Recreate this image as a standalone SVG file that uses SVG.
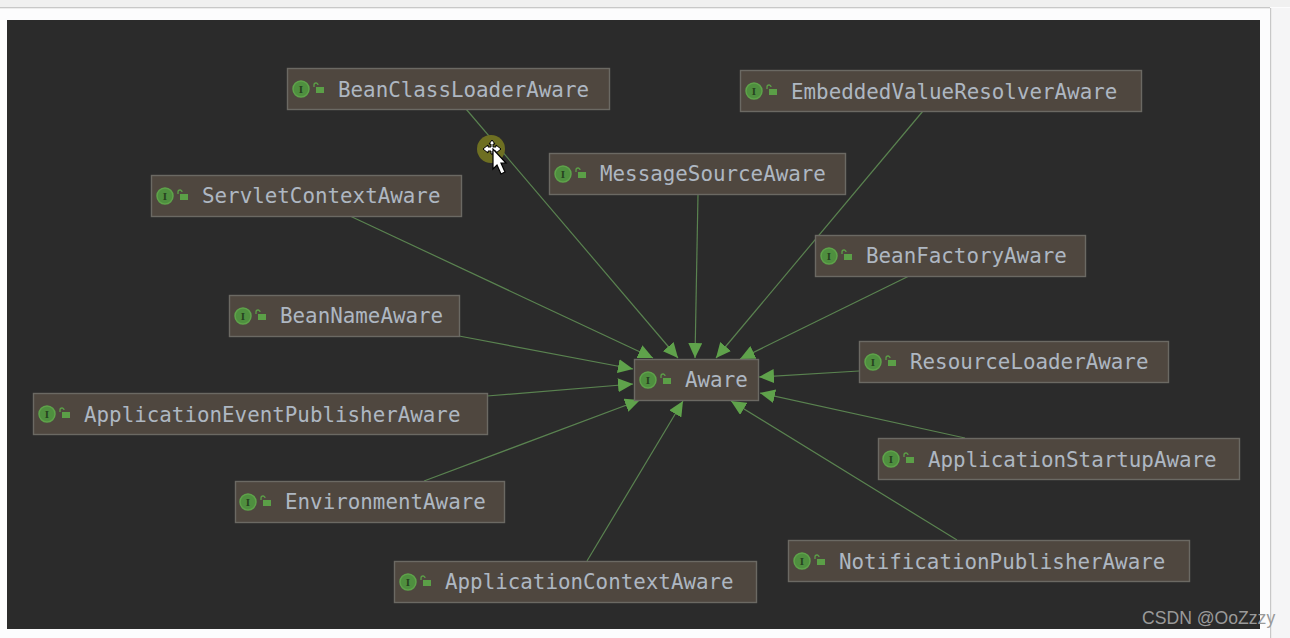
<svg xmlns="http://www.w3.org/2000/svg" width="1290" height="638" viewBox="0 0 1290 638">
<defs>
<style>
.n{fill:#4f473f;stroke:#6b6963;stroke-width:1.4}
.t{font-family:"DejaVu Sans Mono","Liberation Mono",monospace;font-size:20.85px;fill:#aeb7c2}
.c{fill:#4f8f3f;stroke:#5ea34a;stroke-width:1.5}
.i{font-family:"Liberation Serif",serif;font-size:11px;font-weight:bold;fill:#26431f;text-anchor:middle}
.l{stroke:#5a8350;stroke-width:1.2;fill:none;marker-end:url(#a)}
</style>
<marker id="a" markerUnits="userSpaceOnUse" markerWidth="15" markerHeight="14" refX="15" refY="7" orient="auto"><path d="M0 0L15 7L0 14Z" fill="#5fa24b"/></marker>
<g id="lk"><path d="M-5 -2V-4a2 2 0 0 1 4 0" fill="none" stroke="#5b9f47" stroke-width="1.3"/><rect x="-3" y="-2" width="8" height="6" fill="#5b9f47"/></g>
</defs>
<rect width="1290" height="638" fill="#fcfcfd"/>
<rect width="1290" height="7" fill="#f0f0f0"/>
<rect y="7" width="1270" height="1.3" fill="#c8c8c8"/>
<rect x="1271" y="8" width="19" height="630" fill="#f5f5f6"/>
<rect x="1270" y="8" width="1.2" height="630" fill="#c8c8c8"/>
<rect x="7" y="20" width="1253" height="609" fill="#2b2b2b"/>
<g id="connectors">
<path class="l" d="M466 109L678 358"/>
<path class="l" d="M350 216L653 358"/>
<path class="l" d="M459 336L633 369"/>
<path class="l" d="M487 396L633 384"/>
<path class="l" d="M424 481L640 400"/>
<path class="l" d="M587 561L683 401"/>
<path class="l" d="M698 194L695 358"/>
<path class="l" d="M923 111L716 358"/>
<path class="l" d="M909 276L740 359"/>
<path class="l" d="M859 371L759 377"/>
<path class="l" d="M965 438L760 393"/>
<path class="l" d="M957 540L731 401"/>
</g>
<g id="BeanClassLoaderAware"><rect class="n" x="287.500" y="68.500" width="322" height="41"/><circle class="c" cx="301" cy="89" r="8"/><text class="i" x="301" y="92.500">I</text><use href="#lk" x="319" y="89"/><text class="t" x="338" y="96.500">BeanClassLoaderAware</text></g>
<g id="EmbeddedValueResolverAware"><rect class="n" x="740.500" y="70.500" width="401" height="41"/><circle class="c" cx="754" cy="91" r="8"/><text class="i" x="754" y="94.500">I</text><use href="#lk" x="772" y="91"/><text class="t" x="791" y="98.500">EmbeddedValueResolverAware</text></g>
<g id="MessageSourceAware"><rect class="n" x="549.500" y="153.500" width="296" height="41"/><circle class="c" cx="563" cy="174" r="8"/><text class="i" x="563" y="177.500">I</text><use href="#lk" x="581" y="174"/><text class="t" x="600" y="181">MessageSourceAware</text></g>
<g id="ServletContextAware"><rect class="n" x="151.500" y="175.500" width="310" height="41"/><circle class="c" cx="165" cy="196" r="8"/><text class="i" x="165" y="199.500">I</text><use href="#lk" x="183" y="196"/><text class="t" x="202" y="203">ServletContextAware</text></g>
<g id="BeanFactoryAware"><rect class="n" x="815.500" y="235.500" width="270" height="41"/><circle class="c" cx="829" cy="256" r="8"/><text class="i" x="829" y="259.500">I</text><use href="#lk" x="847" y="256"/><text class="t" x="866" y="263">BeanFactoryAware</text></g>
<g id="BeanNameAware"><rect class="n" x="229.500" y="295.500" width="230" height="41"/><circle class="c" cx="243" cy="316" r="8"/><text class="i" x="243" y="319.500">I</text><use href="#lk" x="261" y="316"/><text class="t" x="280" y="323">BeanNameAware</text></g>
<g id="ResourceLoaderAware"><rect class="n" x="859.500" y="341.500" width="309" height="41"/><circle class="c" cx="873" cy="362" r="8"/><text class="i" x="873" y="365.500">I</text><use href="#lk" x="891" y="362"/><text class="t" x="910" y="369">ResourceLoaderAware</text></g>
<g id="Aware"><rect class="n" x="634.500" y="359.500" width="124" height="41"/><circle class="c" cx="648" cy="380" r="8"/><text class="i" x="648" y="383.500">I</text><use href="#lk" x="666" y="380"/><text class="t" x="685" y="387">Aware</text></g>
<g id="ApplicationEventPublisherAware"><rect class="n" x="33.500" y="393.500" width="454" height="41"/><circle class="c" cx="47" cy="414" r="8"/><text class="i" x="47" y="417.500">I</text><use href="#lk" x="65" y="414"/><text class="t" x="84" y="421.500">ApplicationEventPublisherAware</text></g>
<g id="ApplicationStartupAware"><rect class="n" x="878.500" y="438.500" width="361" height="41"/><circle class="c" cx="891" cy="459" r="8"/><text class="i" x="891" y="462.500">I</text><use href="#lk" x="909" y="459"/><text class="t" x="928" y="466.500">ApplicationStartupAware</text></g>
<g id="EnvironmentAware"><rect class="n" x="235.500" y="481.500" width="269" height="41"/><circle class="c" cx="248" cy="502" r="8"/><text class="i" x="248" y="505.500">I</text><use href="#lk" x="266" y="502"/><text class="t" x="285" y="509">EnvironmentAware</text></g>
<g id="NotificationPublisherAware"><rect class="n" x="788.500" y="540.500" width="401" height="41"/><circle class="c" cx="802" cy="561" r="8"/><text class="i" x="802" y="564.500">I</text><use href="#lk" x="820" y="561"/><text class="t" x="839" y="568.500">NotificationPublisherAware</text></g>
<g id="ApplicationContextAware"><rect class="n" x="394.500" y="561.500" width="362" height="41"/><circle class="c" cx="408" cy="582" r="8"/><text class="i" x="408" y="585.500">I</text><use href="#lk" x="426" y="582"/><text class="t" x="445" y="589">ApplicationContextAware</text></g>
<circle cx="491" cy="149" r="14" fill="#6e6f22"/>
<path d="M492 140l-3 4h2v3h-3v-2l-5 4 5 4v-2h3v3h2v-3h3v2l5-4-5-4v2h-3v-3h2z" fill="#fff" stroke="#000"/>
<path d="M493 149V169L497 165L501 174L505 172L501 163H506Z" fill="#fff" stroke="#000" stroke-width="1.2"/>
<text x="1142" y="624" font-family="'Liberation Sans',Arial,sans-serif" font-size="17.600" fill="#9a9a9a">CSDN @OoZzzy</text>
</svg>
